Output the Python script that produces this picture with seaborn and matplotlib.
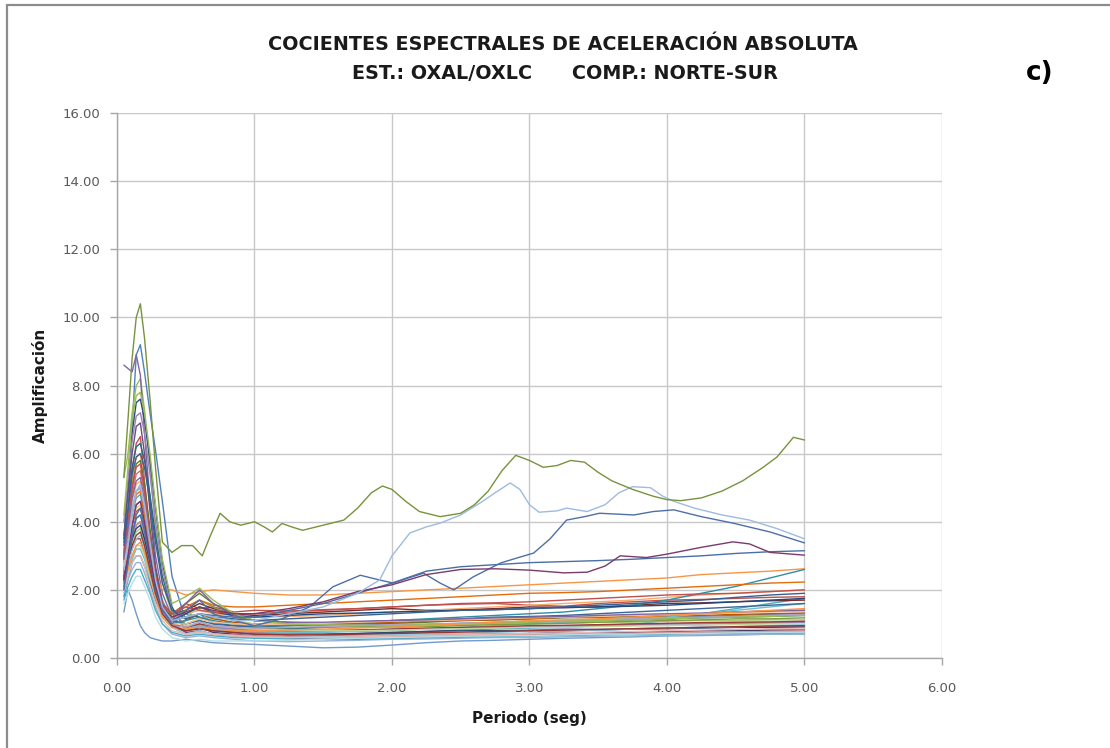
import pandas as pd
import seaborn as sns
import matplotlib.pyplot as plt
from matplotlib.lines import Line2D
from matplotlib.ticker import FormatStrFormatter, MultipleLocator

sns.set_theme(style="whitegrid")
plt.rcParams["font.family"] = ["DejaVu Sans"]

# --- period grid shared by most of the curves ---
PERIODO = [0.05, 0.08, 0.11, 0.14, 0.17, 0.20, 0.24, 0.28, 0.33, 0.40, 0.50, 0.60, 0.70, 0.85,
           1.00, 1.25, 1.50, 1.75, 2.00, 2.25, 2.50, 2.75, 3.00, 3.25, 3.50, 3.75, 4.00, 4.25,
           4.50, 4.75, 5.00]

c01 = [2.2, 4.0, 6.8, 8.9, 9.2, 8.4, 7.2, 6.1, 4.6, 2.4, 1.1, 1.3, 1.0, 0.95,
       0.9, 0.85, 0.9, 0.95, 1.0, 0.98, 1.02, 1.05, 1.08, 1.1, 1.12, 1.15, 1.2, 1.22, 1.25, 1.28, 1.3]
c02 = [3.4, 4.2, 5.5, 6.3, 6.5, 5.2, 3.6, 2.3, 1.6, 1.3, 1.6, 1.45, 1.5, 1.35,
       1.4, 1.38, 1.42, 1.45, 1.5, 1.55, 1.58, 1.6, 1.55, 1.52, 1.6, 1.65, 1.7, 1.72, 1.75, 1.78, 1.8]
c03 = [5.3, 6.0, 7.2, 8.0, 8.2, 7.3, 5.6, 3.8, 2.2, 1.3, 1.0, 1.15, 1.2, 1.0,
       0.9, 0.85, 0.82, 0.8, 0.82, 0.85, 0.88, 0.9, 0.92, 0.95, 0.94, 0.96, 1.0, 1.02, 1.04, 1.05, 1.05]
c04 = [8.6, 8.5, 8.4, 8.9, 8.3, 6.6, 4.6, 3.0, 1.9, 1.2, 0.9, 1.0, 0.85, 0.8,
       0.75, 0.72, 0.7, 0.72, 0.75, 0.78, 0.8, 0.8, 0.82, 0.85, 0.84, 0.86, 0.88, 0.9, 0.9, 0.92, 0.92]
c05 = [2.8, 3.5, 4.2, 4.7, 4.8, 4.2, 3.4, 2.6, 1.7, 1.1, 1.0, 1.1, 0.9, 0.85,
       0.8, 0.7, 0.68, 0.7, 0.72, 0.75, 0.8, 0.85, 0.88, 0.9, 0.95, 1.0, 1.1, 1.3, 1.45, 1.6, 1.75]
c06 = [3.2, 4.0, 5.2, 5.9, 6.0, 5.0, 3.6, 2.5, 2.0, 2.0, 1.85, 1.95, 2.0, 1.95,
       1.9, 1.85, 1.85, 1.9, 1.95, 2.0, 2.05, 2.1, 2.15, 2.2, 2.25, 2.3, 2.35, 2.45, 2.5, 2.55, 2.62]
c07 = [3.5, 5.0, 6.6, 7.5, 7.6, 7.0, 5.8, 4.4, 2.8, 1.5, 0.8, 0.9, 0.8, 0.75,
       0.7, 0.68, 0.7, 0.72, 0.75, 0.78, 0.82, 0.8, 0.78, 0.8, 0.82, 0.85, 0.86, 0.88, 0.9, 0.9, 0.9]
c08 = [2.5, 3.3, 4.3, 4.9, 5.0, 4.3, 3.2, 2.2, 1.5, 1.3, 1.4, 1.6, 1.45, 1.3,
       1.25, 1.3, 1.35, 1.4, 1.45, 1.4, 1.42, 1.45, 1.5, 1.48, 1.5, 1.55, 1.6, 1.62, 1.65, 1.68, 1.7]
c09 = [2.9, 3.8, 5.0, 5.7, 5.8, 5.1, 3.8, 2.6, 1.6, 1.2, 1.6, 1.9, 1.6, 1.3,
       1.1, 1.05, 1.0, 1.0, 1.02, 1.05, 1.1, 1.12, 1.15, 1.18, 1.2, 1.22, 1.25, 1.3, 1.35, 1.38, 1.4]
c10 = [2.0, 2.7, 3.5, 3.9, 4.0, 3.5, 2.7, 1.9, 1.3, 0.9, 0.8, 0.9, 0.75, 0.7,
       0.65, 0.62, 0.6, 0.62, 0.65, 0.68, 0.7, 0.7, 0.72, 0.75, 0.74, 0.76, 0.78, 0.8, 0.8, 0.82, 0.82]
c11 = [3.0, 4.3, 5.6, 6.2, 6.3, 5.8, 4.8, 3.6, 2.4, 1.4, 1.3, 1.2, 1.05, 0.95,
       0.9, 0.88, 0.9, 0.92, 0.95, 0.98, 1.0, 1.02, 1.05, 1.08, 1.1, 1.12, 1.15, 1.18, 1.2, 1.22, 1.25]
c12 = [2.6, 3.2, 3.9, 4.3, 4.4, 3.9, 3.0, 2.1, 1.4, 1.0, 1.1, 1.3, 1.15, 1.05,
       1.0, 0.98, 1.0, 1.02, 1.05, 1.08, 1.1, 1.12, 1.15, 1.2, 1.18, 1.2, 1.22, 1.25, 1.28, 1.3, 1.32]
c13 = [1.35, 2.0, 1.7, 1.3, 0.95, 0.75, 0.6, 0.55, 0.5, 0.5, 0.55, 0.5, 0.45, 0.42,
       0.4, 0.35, 0.3, 0.32, 0.38, 0.45, 0.5, 0.52, 0.55, 0.58, 0.6, 0.62, 0.65, 0.66, 0.68, 0.7, 0.7]
c14 = [3.0, 3.8, 4.8, 5.4, 5.5, 4.8, 3.5, 2.3, 1.4, 0.9, 0.8, 0.95, 0.85, 0.8,
       0.75, 0.7, 0.68, 0.66, 0.65, 0.68, 0.7, 0.72, 0.7, 0.68, 0.7, 0.72, 0.74, 0.75, 0.75, 0.76, 0.76]
c15 = [2.3, 2.8, 3.4, 3.7, 3.8, 3.4, 2.7, 2.0, 1.4, 1.1, 1.2, 1.5, 1.3, 1.1,
       1.0, 0.95, 0.92, 0.9, 0.92, 0.95, 0.98, 1.0, 1.0, 1.02, 1.05, 1.05, 1.08, 1.1, 1.1, 1.12, 1.12]
c16 = [4.0, 5.2, 6.4, 7.1, 7.2, 6.6, 5.4, 4.0, 2.6, 1.4, 0.9, 1.0, 0.9, 0.85,
       0.8, 0.78, 0.8, 0.82, 0.85, 0.86, 0.88, 0.9, 0.92, 0.94, 0.96, 0.98, 1.0, 1.0, 1.02, 1.02, 1.05]
c17 = [2.0, 2.4, 2.9, 3.2, 3.2, 2.9, 2.3, 1.7, 1.2, 0.9, 0.85, 0.95, 0.85, 0.8,
       0.78, 0.75, 0.75, 0.78, 0.8, 0.85, 0.9, 0.95, 1.0, 1.05, 1.1, 1.15, 1.2, 1.3, 1.4, 1.5, 1.6]
c18 = [2.7, 3.6, 4.6, 5.1, 5.2, 4.5, 3.3, 2.2, 1.5, 1.2, 1.3, 1.4, 1.3, 1.25,
       1.2, 1.22, 1.25, 1.3, 1.35, 1.4, 1.45, 1.5, 1.55, 1.6, 1.65, 1.7, 1.78, 1.85, 1.9, 1.95, 2.0]
c19 = [2.2, 3.0, 3.9, 4.5, 4.6, 4.0, 3.1, 2.2, 1.5, 1.1, 1.0, 1.1, 1.0, 0.95,
       0.9, 0.95, 1.0, 1.05, 1.1, 1.12, 1.15, 1.2, 1.22, 1.25, 1.3, 1.35, 1.4, 1.45, 1.5, 1.55, 1.6]
c20 = [2.4, 2.8, 3.2, 3.5, 3.5, 3.1, 2.5, 1.9, 1.4, 1.0, 0.9, 1.0, 0.95, 0.9,
       0.85, 0.82, 0.8, 0.82, 0.85, 0.88, 0.9, 0.92, 0.95, 0.96, 0.98, 1.0, 1.02, 1.04, 1.05, 1.06, 1.08]
c21 = [2.6, 3.1, 3.7, 4.1, 4.2, 3.8, 3.0, 2.2, 1.5, 1.2, 1.4, 1.7, 1.5, 1.2,
       1.1, 1.0, 0.95, 0.92, 0.9, 0.92, 0.95, 0.98, 1.0, 1.02, 1.05, 1.08, 1.1, 1.12, 1.15, 1.15, 1.18]
c22 = [3.6, 4.8, 6.0, 6.8, 6.9, 6.0, 4.3, 2.7, 1.6, 1.0, 0.75, 0.8, 0.7, 0.65,
       0.6, 0.58, 0.55, 0.55, 0.58, 0.6, 0.62, 0.65, 0.66, 0.68, 0.7, 0.7, 0.72, 0.72, 0.74, 0.74, 0.75]
c23 = [1.8, 2.3, 2.8, 3.0, 3.0, 2.7, 2.2, 1.7, 1.3, 1.0, 1.1, 1.2, 1.1, 1.0,
       0.95, 0.95, 1.0, 1.05, 1.1, 1.15, 1.2, 1.25, 1.3, 1.35, 1.45, 1.55, 1.7, 1.9, 2.1, 2.35, 2.6]
c24 = [2.9, 3.5, 4.3, 4.8, 4.9, 4.2, 3.1, 2.1, 1.5, 1.3, 1.5, 1.7, 1.55, 1.5,
       1.5, 1.55, 1.6, 1.65, 1.7, 1.75, 1.8, 1.85, 1.9, 1.92, 1.95, 2.0, 2.05, 2.1, 2.15, 2.2, 2.23]
c25 = [1.9, 2.3, 2.6, 2.8, 2.8, 2.5, 2.0, 1.5, 1.0, 0.7, 0.6, 0.65, 0.6, 0.55,
       0.5, 0.48, 0.5, 0.52, 0.55, 0.56, 0.58, 0.6, 0.6, 0.62, 0.64, 0.65, 0.66, 0.68, 0.68, 0.7, 0.7]
c26 = [2.5, 3.0, 3.6, 3.9, 4.0, 3.6, 2.8, 2.0, 1.3, 0.9, 0.7, 0.75, 0.7, 0.68,
       0.65, 0.62, 0.6, 0.6, 0.62, 0.64, 0.66, 0.68, 0.7, 0.7, 0.72, 0.72, 0.74, 0.75, 0.76, 0.78, 0.8]
c27 = [2.1, 2.6, 3.0, 3.3, 3.3, 3.0, 2.4, 1.8, 1.2, 0.9, 0.95, 1.05, 0.95, 0.9,
       0.85, 0.82, 0.8, 0.8, 0.82, 0.84, 0.86, 0.88, 0.9, 0.9, 0.92, 0.94, 0.95, 0.96, 0.98, 1.0, 1.0]
c28 = [2.8, 3.6, 4.4, 4.9, 5.0, 4.4, 3.3, 2.2, 1.4, 0.95, 0.9, 1.05, 0.95, 0.9,
       0.88, 0.9, 0.92, 0.95, 0.98, 1.0, 1.02, 1.05, 1.08, 1.1, 1.12, 1.15, 1.18, 1.2, 1.22, 1.25, 1.28]
c29 = [2.2, 2.7, 3.2, 3.5, 3.6, 3.2, 2.6, 1.9, 1.3, 0.9, 0.7, 0.8, 0.7, 0.65,
       0.6, 0.6, 0.62, 0.65, 0.68, 0.7, 0.72, 0.75, 0.78, 0.8, 0.82, 0.85, 0.88, 0.9, 0.92, 0.95, 0.98]
c30 = [2.7, 3.3, 4.0, 4.4, 4.5, 4.0, 3.0, 2.1, 1.4, 1.0, 1.0, 1.15, 1.05, 1.0,
       0.98, 1.0, 1.02, 1.05, 1.08, 1.1, 1.12, 1.15, 1.18, 1.2, 1.22, 1.25, 1.28, 1.3, 1.32, 1.35, 1.38]
c31 = [2.3, 2.9, 3.5, 3.8, 3.9, 3.5, 2.8, 2.0, 1.4, 1.1, 1.3, 1.5, 1.35, 1.25,
       1.2, 1.25, 1.3, 1.32, 1.35, 1.38, 1.4, 1.42, 1.45, 1.48, 1.5, 1.52, 1.55, 1.6, 1.65, 1.7, 1.75]
c32 = [3.1, 4.0, 5.0, 5.6, 5.7, 4.9, 3.6, 2.4, 1.6, 1.3, 1.5, 1.4, 1.35, 1.3,
       1.3, 1.35, 1.4, 1.45, 1.5, 1.55, 1.6, 1.62, 1.65, 1.7, 1.75, 1.8, 1.85, 1.88, 1.9, 1.95, 2.0]
c33 = [1.7, 2.1, 2.4, 2.6, 2.6, 2.3, 1.9, 1.4, 1.0, 0.75, 0.65, 0.7, 0.65, 0.6,
       0.58, 0.56, 0.55, 0.56, 0.58, 0.6, 0.62, 0.63, 0.65, 0.66, 0.68, 0.7, 0.7, 0.72, 0.72, 0.74, 0.75]
c34 = [2.9, 3.8, 4.7, 5.2, 5.3, 4.6, 3.4, 2.3, 1.5, 1.1, 1.6, 2.0, 1.6, 1.25,
       1.1, 1.05, 1.05, 1.08, 1.1, 1.12, 1.15, 1.18, 1.2, 1.22, 1.25, 1.28, 1.3, 1.32, 1.35, 1.38, 1.4]
c35 = [4.2, 5.6, 7.0, 7.7, 7.8, 7.2, 6.0, 4.5, 2.9, 1.6, 1.8, 2.05, 1.7, 1.3,
       1.1, 1.0, 0.98, 0.95, 0.95, 0.98, 1.0, 1.02, 1.05, 1.08, 1.1, 1.12, 1.15, 1.18, 1.2, 1.22, 1.25]
c36 = [2.2, 2.6, 3.0, 3.3, 3.4, 3.1, 2.5, 1.8, 1.2, 0.9, 0.85, 0.9, 0.85, 0.8,
       0.8, 0.82, 0.85, 0.88, 0.9, 0.95, 1.0, 1.05, 1.1, 1.12, 1.15, 1.2, 1.25, 1.3, 1.35, 1.4, 1.45]
c37 = [1.6, 1.9, 2.2, 2.4, 2.4, 2.1, 1.7, 1.2, 0.85, 0.6, 0.5, 0.55, 0.5, 0.5,
       0.5, 0.52, 0.55, 0.58, 0.6, 0.62, 0.64, 0.65, 0.66, 0.68, 0.7, 0.7, 0.72, 0.72, 0.74, 0.75, 0.76]
c38 = [2.0, 2.4, 2.8, 3.0, 3.0, 2.7, 2.1, 1.6, 1.1, 0.8, 0.7, 0.75, 0.7, 0.65,
       0.62, 0.6, 0.6, 0.62, 0.64, 0.66, 0.68, 0.7, 0.72, 0.74, 0.76, 0.78, 0.8, 0.82, 0.84, 0.86, 0.88]
c39 = [3.3, 4.4, 5.4, 5.9, 6.0, 5.6, 4.6, 3.4, 2.2, 1.4, 1.15, 1.3, 1.2, 1.15,
       1.1, 1.15, 1.2, 1.25, 1.3, 1.35, 1.4, 1.42, 1.45, 1.5, 1.55, 1.6, 1.65, 1.7, 1.78, 1.85, 1.9]
c40 = [2.4, 2.9, 3.3, 3.6, 3.7, 3.3, 2.6, 1.9, 1.3, 0.95, 0.8, 0.85, 0.8, 0.75,
       0.7, 0.68, 0.68, 0.7, 0.72, 0.74, 0.76, 0.78, 0.8, 0.82, 0.84, 0.86, 0.88, 0.9, 0.92, 0.94, 0.95]
acero = [2.1, 2.8, 3.6, 4.1, 4.2, 3.7, 2.9, 2.0, 1.4, 1.1, 1.2, 1.3, 1.25, 1.2,
         1.2, 1.4, 1.6, 1.9, 2.2, 2.55, 2.68, 2.74, 2.8, 2.83, 2.86, 2.9, 2.95, 3.0, 3.07, 3.12, 3.15]

# --- curves that stand out, each on its own period grid ---
P_VERDE = [0.05, 0.08, 0.11, 0.14, 0.17, 0.20, 0.24, 0.28, 0.33, 0.40, 0.47, 0.55, 0.62, 0.68,
           0.75, 0.82, 0.90, 1.00, 1.07, 1.13, 1.20, 1.27, 1.35, 1.45, 1.55, 1.65, 1.75, 1.85,
           1.93, 2.00, 2.10, 2.20, 2.35, 2.50, 2.60, 2.70, 2.80, 2.90, 3.00, 3.10, 3.20, 3.30,
           3.40, 3.50, 3.60, 3.75, 3.90, 4.00, 4.10, 4.25, 4.40, 4.55, 4.70, 4.80, 4.92, 5.00]
verde = [5.3, 7.0, 8.8, 10.0, 10.4, 9.4, 7.6, 5.6, 3.4, 3.1, 3.3, 3.3, 3.0, 3.6,
         4.25, 4.0, 3.9, 4.0, 3.85, 3.7, 3.95, 3.85, 3.75, 3.85, 3.95, 4.05, 4.4, 4.85,
         5.05, 4.95, 4.6, 4.3, 4.15, 4.25, 4.5, 4.9, 5.5, 5.95, 5.8, 5.6, 5.65, 5.8,
         5.75, 5.45, 5.2, 4.95, 4.75, 4.65, 4.62, 4.7, 4.9, 5.2, 5.6, 5.9, 6.48, 6.4]

P_CELESTE = [0.05, 0.08, 0.11, 0.14, 0.17, 0.20, 0.24, 0.28, 0.33, 0.40, 0.50, 0.60, 0.70, 0.85,
             1.00, 1.25, 1.50, 1.75, 1.91, 2.00, 2.13, 2.25, 2.35, 2.50, 2.64, 2.75, 2.86, 2.93,
             3.00, 3.07, 3.20, 3.27, 3.42, 3.55, 3.65, 3.75, 3.88, 3.97, 4.05, 4.20, 4.40, 4.60,
             4.80, 5.00]
celeste = [2.6, 3.3, 4.2, 4.9, 5.1, 4.5, 3.4, 2.3, 1.5, 1.1, 1.2, 1.3, 1.2, 1.1,
           1.1, 1.3, 1.5, 1.9, 2.29, 3.0, 3.67, 3.85, 3.96, 4.2, 4.55, 4.85, 5.14, 4.95,
           4.5, 4.28, 4.32, 4.4, 4.3, 4.5, 4.85, 5.03, 5.0, 4.75, 4.6, 4.4, 4.2, 4.05,
           3.8, 3.5]

P_AZUL = [0.05, 0.08, 0.11, 0.14, 0.17, 0.20, 0.24, 0.28, 0.33, 0.40, 0.50, 0.60, 0.70, 0.85,
          1.00, 1.20, 1.40, 1.57, 1.77, 1.90, 2.01, 2.12, 2.23, 2.35, 2.45, 2.59, 2.79, 2.92,
          3.03, 3.15, 3.27, 3.40, 3.51, 3.76, 3.90, 4.05, 4.25, 4.48, 4.75, 5.00]
azul = [2.0, 2.8, 3.6, 4.2, 4.4, 3.9, 3.0, 2.1, 1.4, 1.0, 1.4, 1.7, 1.3, 1.1,
        0.95, 1.15, 1.5, 2.09, 2.43, 2.3, 2.2, 2.35, 2.49, 2.2, 2.0, 2.38, 2.79, 2.95,
        3.08, 3.5, 4.05, 4.15, 4.25, 4.2, 4.3, 4.35, 4.15, 3.96, 3.7, 3.38]

P_MORADO = [0.05, 0.08, 0.11, 0.14, 0.17, 0.20, 0.24, 0.28, 0.33, 0.40, 0.50, 0.60, 0.70, 0.85,
            1.00, 1.25, 1.50, 1.75, 2.00, 2.25, 2.50, 2.75, 3.00, 3.25, 3.42, 3.55, 3.66, 3.85,
            4.00, 4.25, 4.48, 4.60, 4.75, 5.00]
morado = [2.3, 3.0, 3.9, 4.5, 4.6, 4.0, 3.0, 2.1, 1.5, 1.2, 1.35, 1.5, 1.4, 1.3,
          1.3, 1.45, 1.65, 1.95, 2.15, 2.45, 2.6, 2.62, 2.58, 2.5, 2.52, 2.7, 3.0, 2.95,
          3.05, 3.25, 3.41, 3.35, 3.1, 3.02]

SERIES = [c01, c02, c03, c04, c05, c06, c07, c08, c09, c10, c11, c12, c13, c14, c15, c16, c17,
          c18, c19, c20, c21, c22, c23, c24, c25, c26, c27, c28, c29, c30, c31, c32, c33, c34,
          c35, c36, c37, c38, c39, c40, acero]
COLORES = ["#4F81BD", "#C0504D", "#9BBB59", "#8064A2", "#4BACC6", "#F79646",
           "#2C4D75", "#772C2A", "#5F7530", "#4D3B62", "#276A7C", "#B65708",
           "#729ACA", "#CD7371", "#AFC97A", "#9983B5", "#6FBDD1", "#F9AB6B",
           "#3A6797", "#9D3B38", "#7E9C40", "#664F82", "#328DA5", "#E46C0A",
           "#95B3D7", "#D99694", "#C3D69B", "#B3A2C7", "#93CDDD", "#FAC090",
           "#1F497D", "#C0504D", "#4BACC6", "#8064A2", "#9BBB59", "#F79646",
           "#B7DEE8", "#E6B9B8", "#376092", "#953735", "#4A6FA5"]
ESPECIALES = [("azul", P_AZUL, azul, "#4F6FA8"),
              ("morado", P_MORADO, morado, "#7B3A6B"),
              ("celeste", P_CELESTE, celeste, "#9DBBE0"),
              ("verde", P_VERDE, verde, "#77933C")]

frames = []
paleta = {}
for i, (vals, col) in enumerate(zip(SERIES, COLORES)):
    name = f"s{i:02d}"
    frames.append(pd.DataFrame({"periodo": PERIODO, "amp": vals, "serie": name}))
    paleta[name] = col
for name, per, vals, col in ESPECIALES:
    frames.append(pd.DataFrame({"periodo": per, "amp": vals, "serie": name}))
    paleta[name] = col
df = pd.concat(frames, ignore_index=True)

fig = plt.figure(figsize=(11.1, 7.48), dpi=100)
ax = fig.add_axes([0.1054, 0.1203, 0.7432, 0.7286])

sns.lineplot(data=df, x="periodo", y="amp", hue="serie", palette=paleta,
             estimator=None, sort=False, linewidth=1.0, legend=False, ax=ax)

ax.set_xlim(0, 6)
ax.set_ylim(0, 16)
ax.xaxis.set_major_locator(MultipleLocator(1))
ax.yaxis.set_major_locator(MultipleLocator(2))
ax.xaxis.set_major_formatter(FormatStrFormatter("%.2f"))
ax.yaxis.set_major_formatter(FormatStrFormatter("%.2f"))
ax.set_facecolor("white")
ax.grid(True, color="#C8C8C8", linewidth=1.0)
for side in ["top", "right"]:
    ax.spines[side].set_visible(False)
for side in ["left", "bottom"]:
    ax.spines[side].set_color("#A6A6A6")
    ax.spines[side].set_linewidth(1.0)
ax.tick_params(axis="both", which="major", direction="out", length=5, width=1,
               color="#A6A6A6", labelsize=9.5, labelcolor="#595959", left=True, bottom=True)
ax.tick_params(axis="x", pad=12)
ax.tick_params(axis="y", pad=7)
ax.set_xlabel("")
ax.set_ylabel("")

fig.text(0.5072, 0.940, "COCIENTES ESPECTRALES DE ACELERACIÓN ABSOLUTA",
         ha="center", va="center", fontsize=13.8, fontweight="bold", color="#1A1A1A")
fig.text(0.5090, 0.902, "EST.: OXAL/OXLC      COMP.: NORTE-SUR",
         ha="center", va="center", fontsize=13.8, fontweight="bold", color="#1A1A1A")
fig.text(0.937, 0.902, "c)", ha="center", va="center", fontsize=19, fontweight="bold", color="black")
fig.text(0.477, 0.040, "Periodo (seg)", ha="center", va="center", fontsize=11,
         fontweight="bold", color="#1A1A1A")
fig.text(0.036, 0.485, "Amplificación", ha="center", va="center", rotation=90,
         fontsize=11, fontweight="bold", color="#1A1A1A")

# outer frame (top and left edges)
fig.add_artist(Line2D([0.006, 1.0], [0.993, 0.993], transform=fig.transFigure,
                      color="#8C8C8C", linewidth=1.6))
fig.add_artist(Line2D([0.006, 0.006], [0.0, 0.993], transform=fig.transFigure,
                      color="#8C8C8C", linewidth=1.6))

fig.savefig("out.png", dpi=100)
plt.close(fig)
